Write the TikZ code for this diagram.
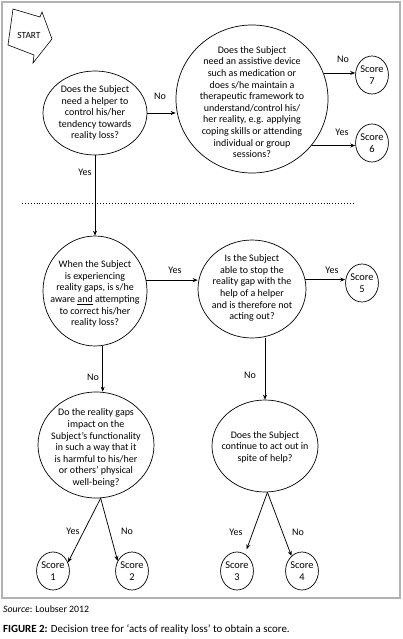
\documentclass[tikz,border=0pt]{standalone}
\usepackage{fontspec}
\setmainfont{Carlito}
\usetikzlibrary{shapes.geometric,arrows.meta,calc}
\begin{document}
\begin{tikzpicture}[x=1pt,y=-1pt,
 q/.style={draw, ellipse, inner sep=0pt, line width=0.7pt},
 qt/.style={align=center, font=\fontsize{10}{11.6}\selectfont, inner sep=0pt},
 sc/.style={draw, ellipse, inner sep=0pt, minimum width=31pt, minimum height=38pt, align=center, font=\fontsize{10.4}{11.8}\selectfont, line width=0.7pt},
 lbl/.style={font=\fontsize{10}{11}\selectfont, inner sep=0pt},
 arr/.style={-{Stealth[length=5pt,width=4pt]}, line width=0.75pt},
]
\useasboundingbox (0,0) rectangle (403,639);
\fill[white] (0,0) rectangle (403,639);
\draw[black!30, line width=1.3pt] (2,2) rectangle (400,598);

% START
\draw[line width=0.6pt] (13,9) -- (40,17) -- (42,12) -- (52,39) -- (33,63) -- (34,55) -- (8,45) -- cycle;
\node[lbl, font=\fontsize{9.4}{10}\selectfont] (start) at (29,35) {START};

% question ellipses
\node[q, minimum width=104pt, minimum height=84pt] (q1) at (95,113) {};
\node[qt] (q1t) at (q1) {Does the Subject\\need a helper to\\control his/her\\tendency towards\\reality loss?};

\node[q, minimum width=152pt, minimum height=148pt] (q2) at (252,99) {};
\node[qt] (q2t) at (252,102) {Does the Subject\\need an assistive device\\such as medication or\\does s/he maintain a\\therapeutic framework to\\understand/control his/\\her reality, e.g. applying\\coping skills or attending\\individual or group\\sessions?};

\node[q, minimum width=104pt, minimum height=110pt] (q3) at (95,291) {};
\node[qt] (q3t) at (95,294) {When the Subject\\is experiencing\\reality gaps, is s/he\\aware \underline{and} attempting\\to correct his/her\\reality loss?};

\node[q, minimum width=108pt, minimum height=98pt] (q4) at (252,289) {};
\node[qt] (q4t) at (252,288) {Is the Subject\\able to stop the\\reality gap with the\\help of a helper\\and is therefore not\\acting out?};

\node[q, minimum width=116pt, minimum height=106pt] (q5) at (96,445) {};
\node[qt] (q5t) at (96,448) {Do the reality gaps\\impact on the\\Subject’s functionality\\in such a way that it\\is harmful to his/her\\or others’ physical\\well-being?};

\node[q, minimum width=106pt, minimum height=92pt] (q6) at (265,446) {};
\node[qt] (q6t) at (265,447) {Does the Subject\\continue to act out in\\spite of help?};

% scores
\node[sc] (s7) at (372,75) {Score\\7};
\node[sc] (s6) at (372,143) {Score\\6};
\node[sc] (s5) at (362,283) {Score\\5};
\node[sc] (s1) at (53,571) {Score\\1};
\node[sc] (s2) at (132,571) {Score\\2};
\node[sc] (s3) at (237,571) {Score\\3};
\node[sc] (s4) at (302,571) {Score\\4};

% dotted separator
\draw[dotted, line width=0.9pt] (22,203) -- (355,203);

% connectors
\draw[arr] (q1.east) -- (q1.east -| q2.west);
\draw[arr] (q2.20) -- (q2.20 -| s7.west);
\draw[arr] (q2.-38) -- (q2.-38 -| s6.west);
\draw[arr] (q1.south) -- (q3.north);
\draw[arr] (q3.12) -- (q3.12 -| q4.west);
\draw[arr] (q4.10) -- (q4.10 -| s5.west);
\draw[arr] (q3.-82) -- (q3.-82 |- q5.north);
\draw[arr] (q6.north |- q4.south) -- (q6.north);
\draw[arr] (q5.-85) -- (s1.30);
\draw[arr] (q5.-85) -- (s2.145);
\draw[arr, shorten >=5pt] (q6.-87) -- (s3.65);
\draw[arr] (q6.-87) -- (s4.125);

% labels
\node[lbl] (l1) at (160,96) {No};
\node[lbl] (l2) at (85,172) {Yes};
\node[lbl] (l3) at (343,59) {No};
\node[lbl] (l4) at (342,132) {Yes};
\node[lbl] (l5) at (175,270) {Yes};
\node[lbl] (l6) at (332,270) {Yes};
\node[lbl] (l7) at (93,377) {No};
\node[lbl] (l8) at (250,375) {No};
\node[lbl] (l9) at (73,531) {Yes};
\node[lbl] (l10) at (127,531) {No};
\node[lbl] (l11) at (236,532) {Yes};
\node[lbl] (l12) at (298,532) {No};

% caption
\node[lbl, anchor=west, font=\fontsize{9.8}{11}\selectfont] (src) at (3,609) {\textit{Source}: Loubser 2012};
\node[lbl, anchor=west, font=\fontsize{10.9}{12}\selectfont] (cap) at (3,629) {\textbf{FIGURE 2:} Decision tree for ‘acts of reality loss’ to obtain a score.};
\end{tikzpicture}
\end{document}
